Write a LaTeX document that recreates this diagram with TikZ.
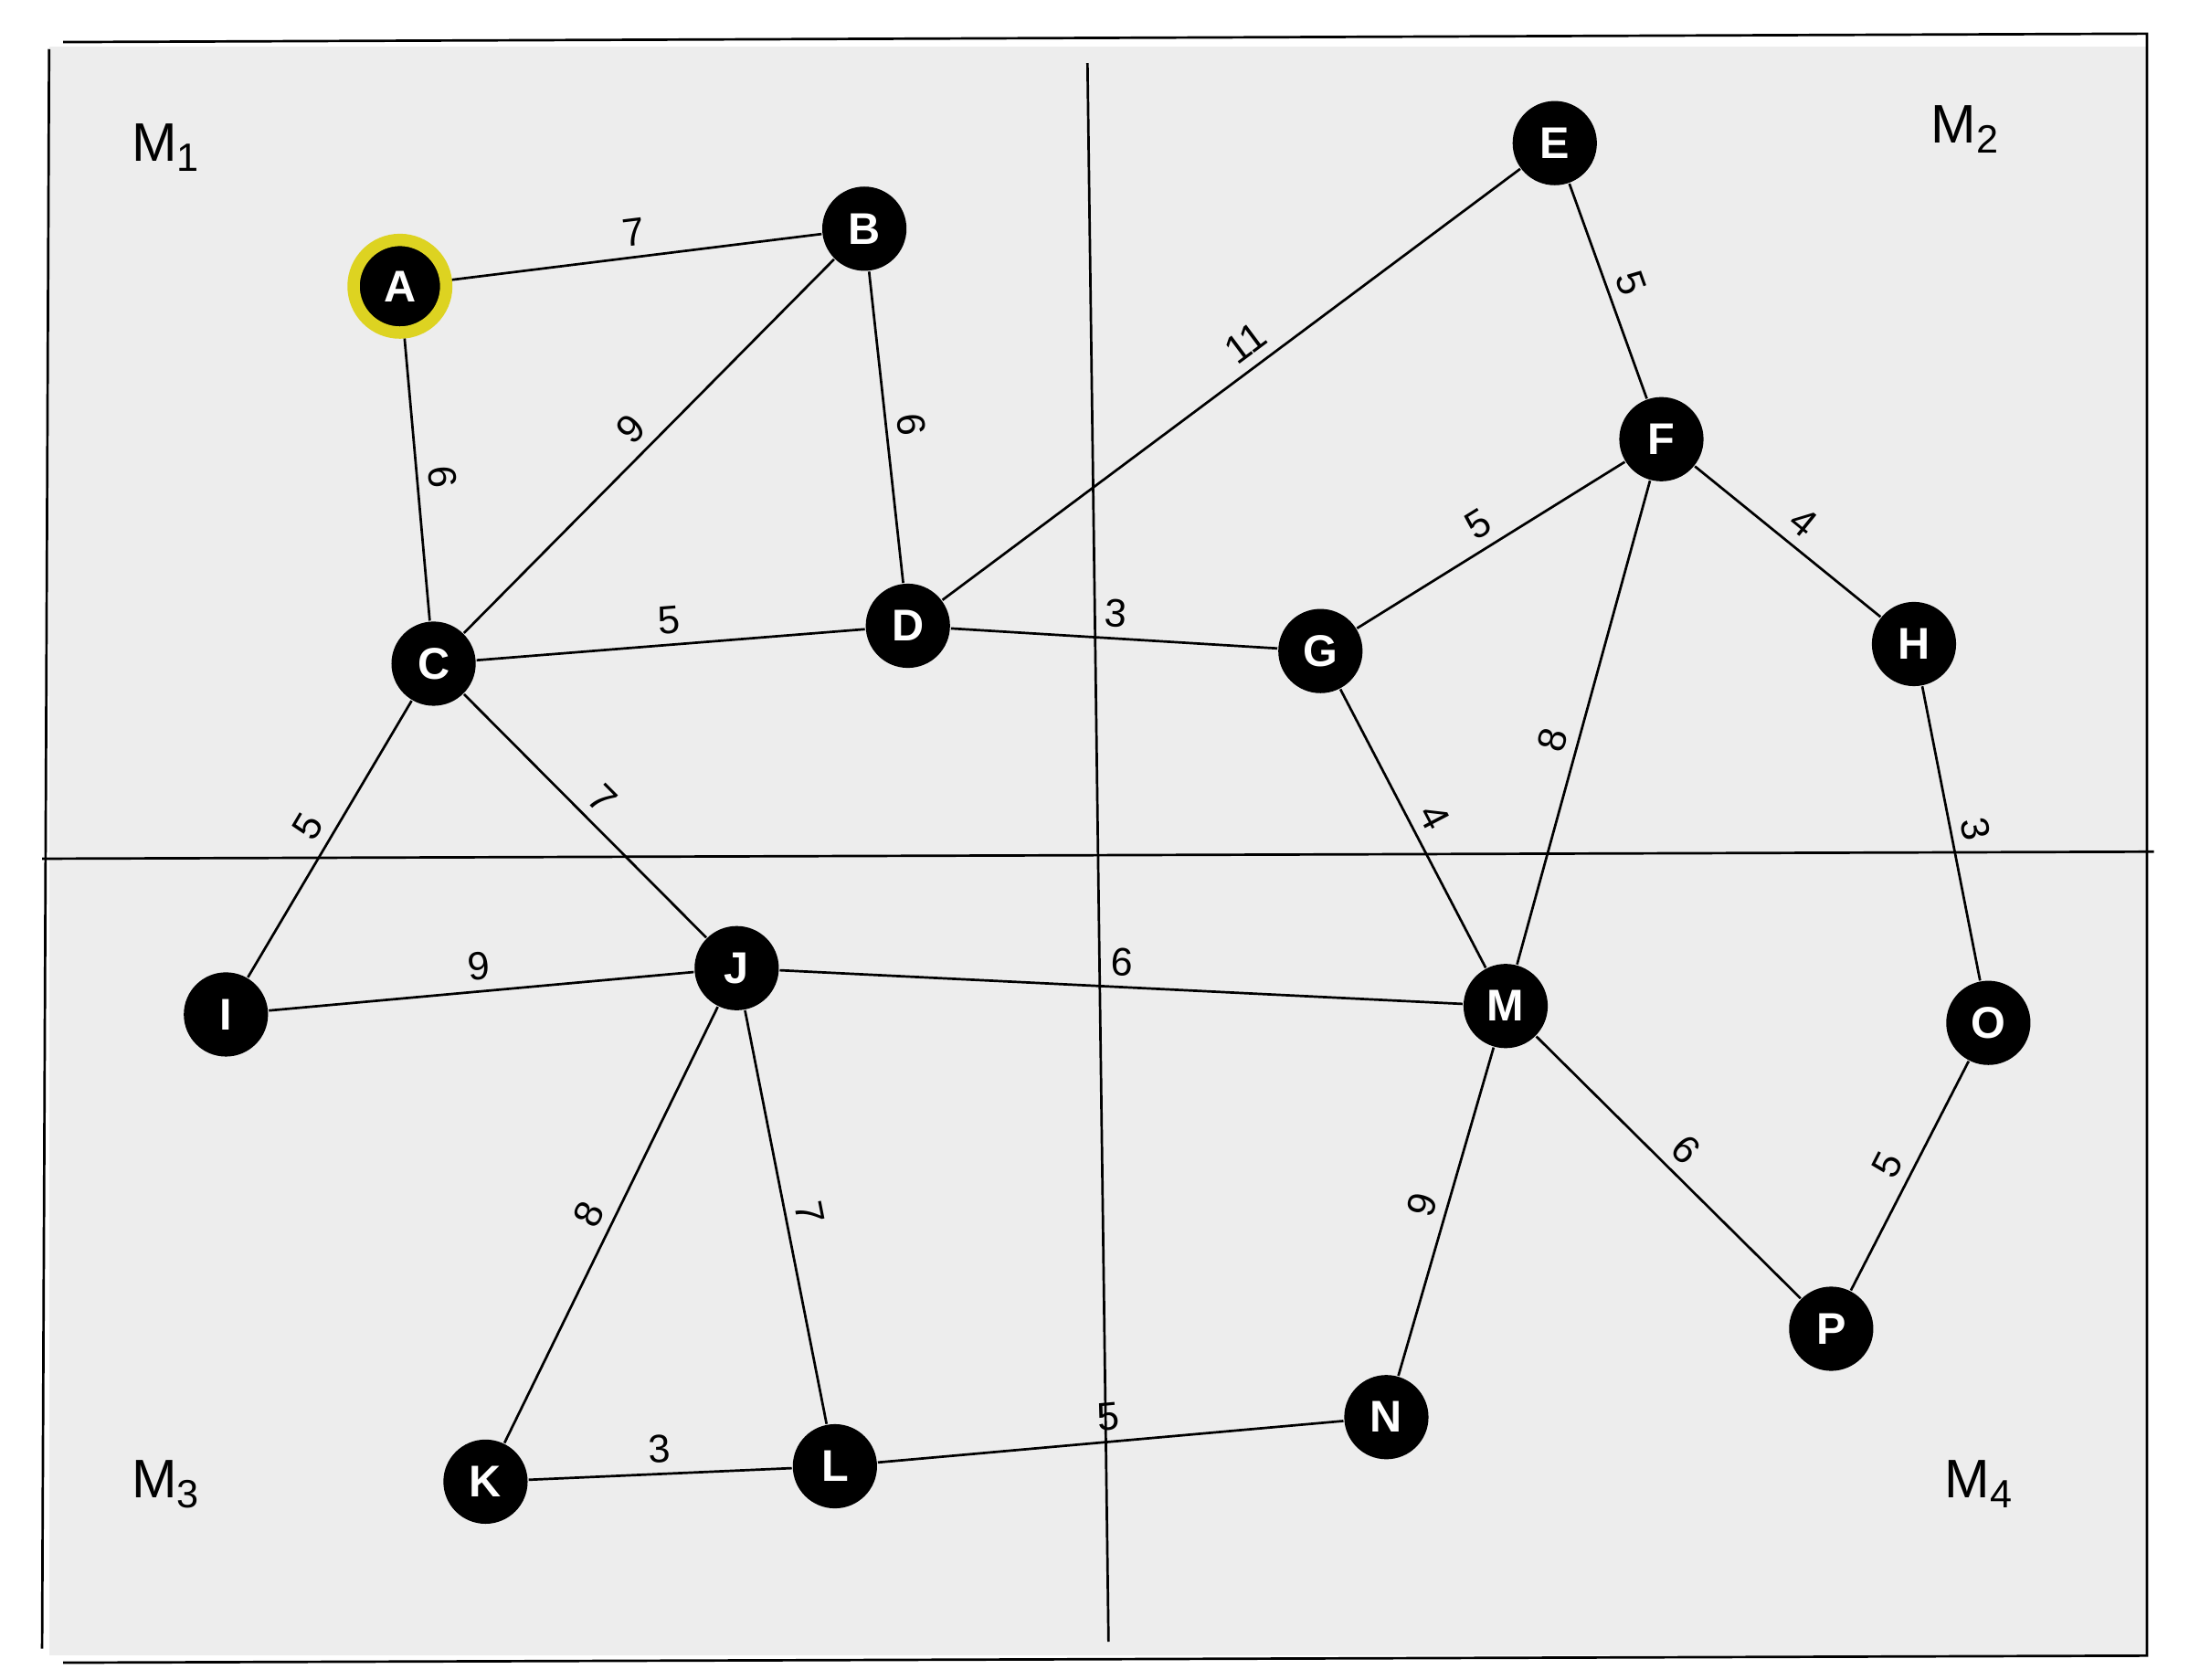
\documentclass[tikz,border=0pt]{standalone}
\usepackage{fontspec}
\setmainfont{Liberation Sans}
\newcommand{\sbs}[1]{\raisebox{-0.35ex}{\fontsize{8}{8}\selectfont #1}}
\begin{document}
\begin{tikzpicture}[x=0.01cm,y=-0.01cm,
  v/.style={circle,fill=black,minimum size=0.6cm,inner sep=0pt,text=white,font=\bfseries\fontsize{9}{9}\selectfont},
  e/.style={line width=0.5pt},
  lbl/.style={font=\fontsize{8}{8}\selectfont,sloped,inner sep=2pt},
  reg/.style={font=\fontsize{11}{11}\selectfont}]
\useasboundingbox (0,0) rectangle (1560,1197);
\fill[white] (0,0) rectangle (1560,1197);
\fill[black!7] (35,33) rectangle (1530,1180);
\draw[e] (45,30) -- (1530,24) -- (1530,1180) -- (45,1185);
\draw[e] (35,35) -- (30,1175);
\draw[e] (30,612) -- (1535,607);
\draw[e] (775,45) -- (790,1170);
\node[reg] at (118,105) {M\sbs{1}};
\node[reg] at (1400,92) {M\sbs{2}};
\node[reg] at (118,1058) {M\sbs{3}};
\node[reg] at (1410,1058) {M\sbs{4}};
\node[v,draw=yellow!85!black,line width=2.5pt,minimum size=0.66cm] (A) at (285,204) {A};
\node[v] (B) at (616,163) {B};
\node[v] (C) at (309,473) {C};
\node[v] (D) at (647,446) {D};
\node[v] (E) at (1108,102) {E};
\node[v] (F) at (1184,313) {F};
\node[v] (G) at (941,464) {G};
\node[v] (H) at (1364,459) {H};
\node[v] (I) at (161,723) {I};
\node[v] (J) at (525,690) {J};
\node[v] (K) at (346,1056) {K};
\node[v] (L) at (595,1045) {L};
\node[v] (M) at (1073,717) {M};
\node[v] (N) at (988,1010) {N};
\node[v] (O) at (1417,729) {O};
\node[v] (P) at (1305,947) {P};
\draw[e] (A) -- node[lbl,above] {7} (B);
\draw[e] (A) -- node[lbl,above] {6} (C);
\draw[e] (C) -- node[lbl,above] {9} (B);
\draw[e] (B) -- node[lbl,above] {6} (D);
\draw[e] (C) -- node[lbl,above] {5} (D);
\draw[e] (D) -- node[lbl,above,pos=0.55] {11} (E);
\draw[e] (D) -- node[lbl,above,pos=0.5] {3} (G);
\draw[e] (E) -- node[lbl,above] {5} (F);
\draw[e] (G) -- node[lbl,above] {5} (F);
\draw[e] (F) -- node[lbl,above] {4} (H);
\draw[e] (M) -- node[lbl,above,pos=0.45] {8} (F);
\draw[e] (G) -- node[lbl,above] {4} (M);
\draw[e] (H) -- node[lbl,above] {3} (O);
\draw[e] (I) -- node[lbl,above] {5} (C);
\draw[e] (C) -- node[lbl,above] {7} (J);
\draw[e] (I) -- node[lbl,above] {9} (J);
\draw[e] (J) -- node[lbl,above,pos=0.5] {6} (M);
\draw[e] (K) -- node[lbl,above] {8} (J);
\draw[e] (J) -- node[lbl,above] {7} (L);
\draw[e] (K) -- node[lbl,above] {3} (L);
\draw[e] (L) -- node[lbl,above,pos=0.5] {5} (N);
\draw[e] (N) -- node[lbl,above] {9} (M);
\draw[e] (M) -- node[lbl,above] {6} (P);
\draw[e] (P) -- node[lbl,above] {5} (O);
\end{tikzpicture}
\end{document}
